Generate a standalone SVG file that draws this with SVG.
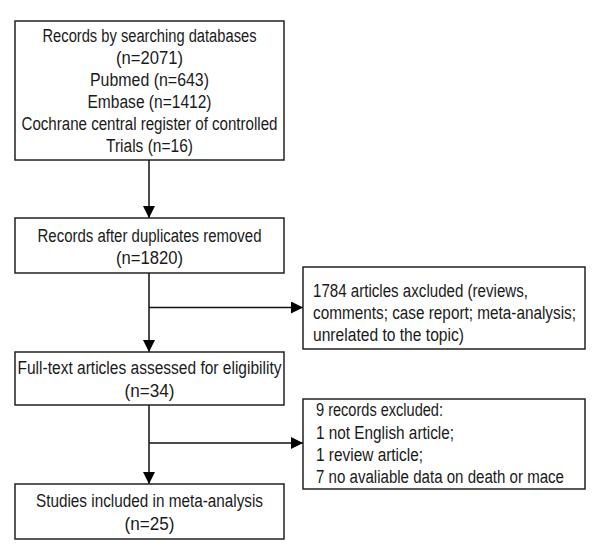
<svg xmlns="http://www.w3.org/2000/svg" width="600" height="560" viewBox="0 0 600 560">
<defs>
<style>
.box{fill:#fff;stroke:#222;stroke-width:1.5}
.t{font-family:"Liberation Sans","Arial",sans-serif;font-size:18px;fill:#1a1a1a}
.c{text-anchor:middle}
.ln{stroke:#111;stroke-width:1.5;fill:none}
</style>
<marker id="ah" viewBox="0 0 12 12" refX="12" refY="6" markerWidth="12" markerHeight="12" markerUnits="userSpaceOnUse" orient="auto">
<path d="M0,0 L12,6 L0,12 Z" fill="#000"/>
</marker>
</defs>
<rect width="600" height="560" fill="#fff"/>
<g id="connectors">
<line class="ln" x1="149" y1="160" x2="149" y2="218" marker-end="url(#ah)"/>
<line class="ln" x1="149" y1="273" x2="149" y2="352" marker-end="url(#ah)"/>
<line class="ln" x1="149" y1="307.5" x2="303" y2="307.5" marker-end="url(#ah)"/>
<line class="ln" x1="149" y1="405" x2="149" y2="484" marker-end="url(#ah)"/>
<line class="ln" x1="149" y1="443" x2="303" y2="443" marker-end="url(#ah)"/>
</g>
<g id="n1">
<rect class="box" x="15" y="21" width="269" height="139"/>
<text class="t c" x="149.5" y="42" textLength="214" lengthAdjust="spacingAndGlyphs">Records by searching databases</text>
<text class="t c" x="149.5" y="64" textLength="67" lengthAdjust="spacingAndGlyphs">(n=2071)</text>
<text class="t c" x="149.5" y="86" textLength="119" lengthAdjust="spacingAndGlyphs">Pubmed (n=643)</text>
<text class="t c" x="149.5" y="108" textLength="124" lengthAdjust="spacingAndGlyphs">Embase (n=1412)</text>
<text class="t c" x="149.5" y="130" textLength="256" lengthAdjust="spacingAndGlyphs">Cochrane central register of controlled</text>
<text class="t c" x="149.5" y="152" textLength="87" lengthAdjust="spacingAndGlyphs">Trials (n=16)</text>
</g>
<g id="n2">
<rect class="box" x="15" y="218" width="269" height="55"/>
<text class="t c" x="149.5" y="242" textLength="224" lengthAdjust="spacingAndGlyphs">Records after duplicates removed</text>
<text class="t c" x="149.5" y="264" textLength="67" lengthAdjust="spacingAndGlyphs">(n=1820)</text>
</g>
<g id="n3">
<rect class="box" x="303" y="267" width="282" height="82"/>
<text class="t" x="313" y="297" textLength="215" lengthAdjust="spacingAndGlyphs">1784 articles axcluded (reviews,</text>
<text class="t" x="313" y="319" textLength="263" lengthAdjust="spacingAndGlyphs">comments; case report; meta-analysis;</text>
<text class="t" x="313" y="341" textLength="151" lengthAdjust="spacingAndGlyphs">unrelated to the topic)</text>
</g>
<g id="n4">
<rect class="box" x="15" y="352" width="269" height="53"/>
<text class="t c" x="149.5" y="374" textLength="264" lengthAdjust="spacingAndGlyphs">Full-text articles assessed for eligibility</text>
<text class="t c" x="149.5" y="397" textLength="50" lengthAdjust="spacingAndGlyphs">(n=34)</text>
</g>
<g id="n5">
<rect class="box" x="303" y="399" width="282" height="90"/>
<text class="t" x="316" y="416" textLength="127" lengthAdjust="spacingAndGlyphs">9 records excluded:</text>
<text class="t" x="316" y="438.5" textLength="138" lengthAdjust="spacingAndGlyphs">1 not English article;</text>
<text class="t" x="316" y="461" textLength="107" lengthAdjust="spacingAndGlyphs">1 review article;</text>
<text class="t" x="316" y="483" textLength="248" lengthAdjust="spacingAndGlyphs">7 no avaliable data on death or mace</text>
</g>
<g id="n6">
<rect class="box" x="15" y="484" width="269" height="55"/>
<text class="t c" x="149.5" y="507" textLength="227" lengthAdjust="spacingAndGlyphs">Studies included in meta-analysis</text>
<text class="t c" x="149.5" y="530" textLength="50" lengthAdjust="spacingAndGlyphs">(n=25)</text>
</g>
</svg>
